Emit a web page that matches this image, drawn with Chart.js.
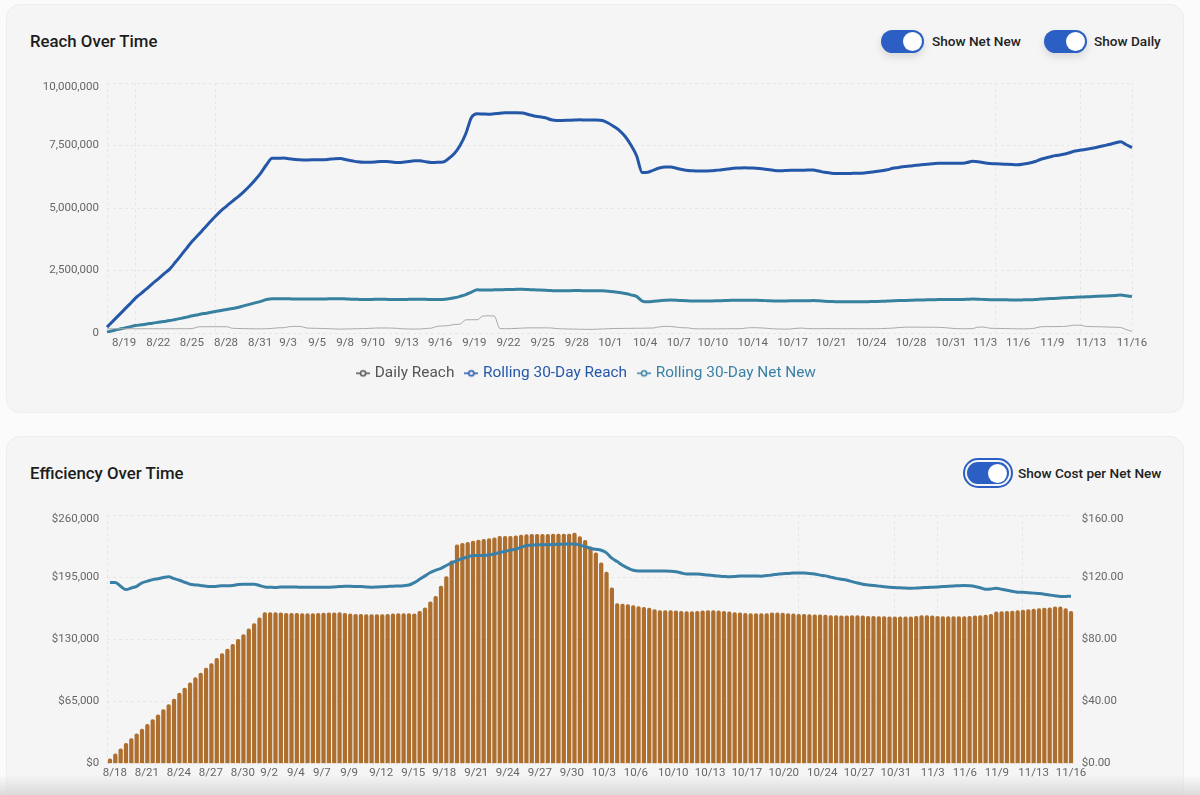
<!DOCTYPE html>
<html>
<head>
<meta charset="utf-8">
<title>Reach and Efficiency</title>
<script src="https://cdn.jsdelivr.net/npm/chart.js@4"></script>
<style>
    html, body { margin: 0; padding: 0; width: 1200px; height: 795px; overflow: hidden; background: #fbfbfb; font-family: Roboto, sans-serif; }
    .card { position: absolute; left: 6px; width: 1178px; background: #f5f5f5; border: 1px solid #eeeeee; border-radius: 14px; box-sizing: border-box; }
    #reach-card { top: 4px; height: 409px; }
    #efficiency-card { top: 436px; height: 380px; }
    .title { position: absolute; left: 30px; font-size: 16.8px; font-weight: 500; color: #1c1c1c; }
    .toggle { position: absolute; width: 43px; height: 23px; background: #2c5fc3; border-radius: 12px; box-shadow: 0 4px 8px rgba(0,0,0,0.12); }
    .toggle::after { content: ''; position: absolute; right: 2px; top: 2px; width: 19px; height: 19px; border-radius: 50%; background: #fff; }
    .toggle.focus { width: 42px; height: 22px; outline: 2px solid #2c5fc3; outline-offset: 2px; box-shadow: none; }
    .toggle.focus::after { top: 1.5px; }
    .toggle-label { position: absolute; font-size: 13.6px; font-weight: 500; color: #222; white-space: nowrap; }
    canvas { position: absolute; }
    #reach-chart { left: 20px; top: 67px; }
    #efficiency-chart { left: 20px; top: 499px; }
    #bottom-fade { position: absolute; left: 0; top: 775px; width: 1200px; height: 20px; pointer-events: none; background: linear-gradient(to bottom, rgba(215,215,215,0), rgba(215,215,215,0.9)); }
</style>
</head>
<body>
<div class="card" id="reach-card"></div>
<div class="card" id="efficiency-card"></div>

<div class="title" style="top:31px">Reach Over Time</div>
<div class="toggle" style="left:881px;top:30px"></div>
<div class="toggle-label" style="left:932px;top:33px">Show Net New</div>
<div class="toggle" style="left:1044px;top:30px"></div>
<div class="toggle-label" style="left:1094px;top:33px">Show Daily</div>

<div class="title" style="top:463px">Efficiency Over Time</div>
<div class="toggle focus" style="left:967px;top:462px"></div>
<div class="toggle-label" style="left:1018px;top:465px">Show Cost per Net New</div>

<canvas id="reach-chart" width="1154" height="324"></canvas>
<canvas id="efficiency-chart" width="1120" height="284"></canvas>
<div id="bottom-fade"></div>

<script>
// --- TICK LABELS AND THEIR POSITIONS (in half-day steps from 8/18) ---
const reachTickLabels = ['8/19','8/22','8/25','8/28','8/31','9/3','9/5','9/8','9/10','9/13','9/16','9/19','9/22','9/25','9/28','10/1','10/4','10/7','10/10','10/14','10/17','10/21','10/24','10/28','10/31','11/3','11/6','11/9','11/13','11/16'];
const reachTickSpots = [3,9,14.9,20.9,26.9,31.8,36.9,41.8,46.7,52.6,58.5,64.5,70.5,76.5,82.5,88.4,94.5,100.4,106.4,113.4,120.4,127.2,134.2,141.2,148.2,154.2,160,166,172.8,180];
const reachGridSpots = [0,5,13.9,19,25.9,31.8,37.8,43.8,49.7,55.7,61.6,68.6,75.5,82.5,89.5,96.5,101.4,108.1,117.4,126.2,134.2,142.2,149.2,156,163.2,171,180];
const effTickLabels = ['8/18','8/21','8/24','8/27','8/30','9/2','9/4','9/7','9/9','9/12','9/15','9/18','9/21','9/24','9/27','9/30','10/3','10/6','10/10','10/13','10/17','10/20','10/24','10/27','10/31','11/3','11/6','11/9','11/13','11/16'];
const effTickSpots = [0.9,6.9,12.9,18.9,24.9,29.8,34.8,39.7,44.8,50.8,56.8,62.6,68.6,74.5,80.5,86.5,92.5,98.5,105.5,112.4,119.3,126.2,133.4,140.3,147.2,154.1,160.1,166.1,173,180];
const effGridSpots = [-0.5,8.8,16.9,25.3,31.7,37.8,43.6,50.6,58.6,66.7,74.5,82.4,90.3,98.3,106.4,114.4,121.4,129,138.2,147,155,163.3,171,180.4];

// --- SERIES, ONE VALUE PER HALF DAY (thousands) ---
const dailyReach = [
    175,175,175,175,175,175,175,175,175,175,175,175,175,175,175,180,250,255,255,255,
    255,255,195,185,180,175,170,170,175,190,210,215,255,270,265,205,195,190,185,175,
    165,160,165,170,175,180,190,200,205,205,200,190,170,165,160,165,185,200,270,285,
    300,345,360,530,535,535,680,690,685,180,175,180,190,200,210,210,210,210,205,180,
    170,165,160,155,150,150,155,165,175,185,185,190,190,195,195,200,205,250,270,265,
    240,215,210,175,170,170,170,170,170,175,175,175,195,215,215,205,190,170,165,160,
    165,190,200,180,175,175,180,180,175,175,175,175,175,175,175,175,180,190,200,220,
    235,240,240,235,235,235,230,220,200,180,175,175,180,240,240,195,190,185,180,175,
    170,170,175,200,255,260,260,260,265,290,320,315,265,260,255,250,240,235,225,140,
    65
];
const rollingReach = [
    240,470,700,930,1160,1400,1590,1780,1980,2170,2370,2560,2830,3110,3400,3680,3920,4170,4420,4660,
    4890,5080,5270,5450,5650,5870,6120,6400,6730,6990,6990,7000,6970,6940,6930,6920,6930,6930,6930,6950,
    6970,6980,6930,6890,6850,6830,6830,6840,6860,6860,6840,6820,6830,6860,6890,6890,6850,6820,6830,6840,
    6980,7180,7500,7970,8620,8770,8760,8750,8770,8790,8810,8810,8810,8800,8740,8680,8650,8610,8530,8500,
    8500,8510,8520,8530,8520,8520,8520,8500,8400,8260,8100,7860,7520,7090,6420,6430,6520,6600,6640,6640,
    6590,6540,6500,6490,6480,6480,6490,6510,6530,6560,6590,6600,6610,6600,6590,6570,6540,6510,6490,6500,
    6510,6510,6510,6520,6520,6480,6430,6400,6380,6380,6380,6390,6390,6400,6430,6460,6490,6530,6590,6620,
    6660,6680,6710,6730,6750,6770,6790,6790,6790,6790,6790,6820,6870,6850,6810,6780,6770,6760,6750,6740,
    6730,6760,6800,6860,6950,7010,7070,7110,7150,7210,7280,7320,7350,7390,7440,7490,7540,7600,7650,7530,
    7420
];
const rollingNetNew = [
    40,95,150,200,250,300,330,365,395,430,465,500,545,590,640,690,735,780,820,860,
    905,945,985,1025,1090,1150,1210,1270,1340,1375,1375,1375,1370,1365,1360,1360,1360,1360,1365,1370,
    1375,1375,1365,1355,1350,1345,1345,1350,1350,1350,1345,1345,1345,1350,1355,1355,1350,1345,1345,1345,
    1370,1410,1470,1540,1640,1730,1725,1725,1730,1735,1740,1745,1750,1750,1740,1730,1725,1715,1700,1690,
    1690,1695,1700,1700,1695,1695,1695,1690,1675,1650,1620,1580,1530,1470,1280,1250,1270,1295,1310,1320,
    1315,1300,1290,1280,1280,1280,1285,1290,1295,1305,1310,1315,1315,1310,1310,1305,1295,1285,1280,1285,
    1290,1290,1295,1295,1300,1290,1275,1265,1255,1250,1250,1250,1255,1255,1260,1265,1270,1280,1290,1300,
    1305,1310,1320,1325,1330,1335,1340,1340,1340,1340,1345,1350,1360,1355,1345,1335,1330,1330,1330,1325,
    1325,1330,1335,1345,1360,1375,1385,1395,1410,1420,1435,1445,1450,1460,1470,1480,1490,1500,1520,1490,
    1460
];
const spendBars = [
    4.9,10,15.4,21,26,31,36,41,46,51,56.5,61.6,67.4,73.7,79,84.5,89.8,94.7,99.9,104.5,
    110,115,119.8,124.7,130,134.9,140.8,146.4,152.3,157.9,157.9,157.9,157.6,157.2,157.2,157.2,156.9,156.9,156.9,157.2,
    157.4,157.6,157.6,157.9,157.2,156.5,156.2,156.2,155.9,155.9,155.9,155.9,156.2,156.5,156.9,156.9,156.9,156.6,159.3,162.8,
    169.1,175,185.5,195.7,212.1,228.9,230.3,231.3,232.7,233.8,234.5,235.2,236.2,237.6,237.6,237.6,238.3,239,239.4,239.7,
    239.7,239.7,239.9,240,240.1,240.1,240.1,241.1,237.3,233.4,226.8,220.5,210,200.2,183.8,167.4,166.7,166.3,165.3,164.2,
    163.5,162.5,161.1,160,160,160,159.7,159.3,159,159,159.3,159.7,160,160,159.7,159.3,158.6,157.9,157.6,157,
    156.9,156.9,156.9,156.9,157.6,157.6,157.3,156.9,156.5,156.2,156.2,155.8,155.5,155.5,155.2,154.8,154.8,154.5,154.5,154.8,
    154.8,154.5,154.1,154.1,153.8,153.8,153.4,153.4,153.4,153.4,153.4,154.1,154.8,154.8,154.5,154.1,153.8,153.8,153.8,153.8,
    153.8,154.1,154.5,154.8,155.2,156.2,158.6,158.9,159.3,159.6,160,160.4,161,161.5,162,162.6,163,163.8,163.8,162.1,
    159.3
];
const costPerNetNew = [
    116.5,116.5,114.1,112,113,114.1,116.3,117.4,118.4,119,119.7,120.2,119,118,116.7,115.4,115,114.6,114.1,113.9,
    114.1,114.4,114.4,114.6,115.2,115.4,115.4,115.4,114.6,113.7,113.5,113.3,113.7,113.7,113.7,113.6,113.5,113.5,113.5,113.5,
    113.5,113.5,113.7,113.9,114.1,114.1,114,113.9,113.7,113.5,113.6,113.8,114,114.2,114.3,114.5,114.9,116.5,118.6,120.8,
    123,124.5,125.7,127.5,129.2,130.6,132,133,133.9,133.9,133.9,134.2,135,135.8,136.6,137.4,138,139.2,140.4,140.6,
    140.8,140.8,140.9,141,141.1,141.2,141.3,141.4,140.6,139.6,138.6,137.9,137.3,135.6,132.2,130,127.6,125.8,124.4,124,
    124,124,124,124,124,123.8,123.4,122.7,122,122,122,121.7,121.4,121,120.7,120.4,120.2,120.4,120.7,120.8,
    120.8,120.7,120.6,121,121.4,121.9,122.2,122.4,122.7,122.7,122.6,122.4,122,121.3,120.8,120,119.2,118.6,118,117.1,
    116.2,115.4,115,114.6,114.2,113.8,113.5,113.3,113.1,113,112.8,113,113.2,113.3,113.5,113.7,113.9,114.1,114.3,114.5,
    114.6,114.4,114,113.2,112.2,112.4,112.8,112.2,111.5,110.9,110.3,110.2,110,109.7,109.4,109,108.5,108,107.5,107.6,
    107.7
];

// --- CHART HELPERS ---
const FONT = 'Roboto, sans-serif';
const GRID_COLOR = '#e6e6e6';
const GRID_DASH = [3, 3];
const TICK_COLOR = '#666666';
const TICK_SIZE = 11.5;

// half-day category labels, 8/18 onward
const halfDays = rollingReach.map((_, i) => {
    const d = new Date(2024, 7, 18 + Math.floor(i / 2));
    return `${d.getMonth() + 1}/${d.getDate()}`;
});

// Top tick label sits a little lower than its grid line: an empty first line pushes it down
const tickFont = (top) => (ctx) => ({
    family: FONT,
    size: TICK_SIZE,
    lineHeight: ctx.tick && ctx.tick.value === top ? '8px' : 1.2
});
const tickText = (top, format) => (value) => value === top ? ['', format(value)] : format(value);

function labelAxis(labels, spots, offset, height) {
    return {
        type: 'category',
        offset: offset,
        position: 'bottom',
        border: { display: false },
        grid: { display: false, drawTicks: false },
        ticks: {
            autoSkip: false, maxRotation: 0, padding: 3,
            color: TICK_COLOR, font: { family: FONT, size: TICK_SIZE },
            callback: (value, i) => labels[i]
        },
        afterBuildTicks: (axis) => { axis.ticks = spots.map(value => ({ value })); },
        afterFit: (axis) => { axis.height = height; }
    };
}

function gridAxis(spots, offset) {
    return {
        type: 'category',
        offset: offset,
        position: 'bottom',
        border: { display: false, dash: GRID_DASH },
        grid: { color: GRID_COLOR, offset: false, drawTicks: false },
        ticks: { display: false, autoSkip: false },
        afterBuildTicks: (axis) => { axis.ticks = spots.map(value => ({ value })); },
        afterFit: (axis) => { axis.height = 0; }
    };
}

// Legend marker: short line with a hollow circle on it
function legendMarker(color) {
    const c = document.createElement('canvas');
    c.width = 14; c.height = 10;
    const g = c.getContext('2d');
    g.strokeStyle = color;
    g.lineWidth = 1.5;
    g.beginPath(); g.moveTo(0, 5); g.lineTo(14, 5); g.stroke();
    g.fillStyle = '#f5f5f5';
    g.beginPath(); g.arc(7, 5, 2.6, 0, Math.PI * 2); g.fill(); g.stroke();
    return c;
}

// --- REACH OVER TIME ---
const REACH_MAX = 10000000;
const toUnits = (arr) => arr.map(v => v * 1000);

new Chart(document.getElementById('reach-chart'), {
    type: 'line',
    data: {
        labels: halfDays,
        datasets: [
            { label: 'Daily Reach', data: toUnits(dailyReach), borderColor: '#a9a9a9', borderWidth: 1, pointRadius: 0, cubicInterpolationMode: 'monotone', _legend: '#555555' },
            { label: 'Rolling 30-Day Reach', data: toUnits(rollingReach), borderColor: '#2557a9', borderWidth: 3, pointRadius: 0, cubicInterpolationMode: 'monotone', _legend: '#2557a9' },
            { label: 'Rolling 30-Day Net New', data: toUnits(rollingNetNew), borderColor: '#37809f', borderWidth: 3, pointRadius: 0, cubicInterpolationMode: 'monotone', _legend: '#3a80a6' }
        ]
    },
    options: {
        responsive: false,
        animation: false,
        // left padding only moves the centred legend to the right; the y axis is narrowed to match
        layout: { padding: { left: 23, right: 42 } },
        plugins: {
            tooltip: { enabled: false },
            legend: {
                position: 'bottom',
                labels: {
                    usePointStyle: true, pointStyleWidth: 8, padding: 13,
                    font: { family: FONT, size: 15.4 },
                    generateLabels: (chart) => chart.data.datasets.map((ds, i) => ({
                        text: ds.label, datasetIndex: i, fontColor: ds._legend,
                        pointStyle: legendMarker(ds._legend), lineWidth: 0,
                        fillStyle: 'transparent', strokeStyle: 'transparent'
                    }))
                }
            }
        },
        scales: {
            x: labelAxis(reachTickLabels, reachTickSpots, false, 19.5),
            xGrid: gridAxis(reachGridSpots, false),
            y: {
                min: 0, max: REACH_MAX,
                border: { display: false, dash: GRID_DASH },
                grid: { color: GRID_COLOR, drawTicks: false },
                ticks: {
                    stepSize: 2500000, padding: 8, color: TICK_COLOR, font: tickFont(REACH_MAX),
                    callback: tickText(REACH_MAX, v => v.toLocaleString('en-US'))
                },
                afterFit: (axis) => { axis.width = 64; }
            }
        }
    }
});

// --- EFFICIENCY OVER TIME ---
const SPEND_MAX = 260000;
const COST_MAX = 160;

new Chart(document.getElementById('efficiency-chart'), {
    type: 'bar',
    data: {
        labels: halfDays,
        datasets: [
            { type: 'line', label: 'Cost per Net New', data: costPerNetNew, yAxisID: 'yCost', borderColor: '#3a7fa6', borderWidth: 3, pointRadius: 0, cubicInterpolationMode: 'monotone', order: 0 },
            { type: 'bar', label: 'Spend', data: toUnits(spendBars), yAxisID: 'y', backgroundColor: '#ae6f2e', barThickness: 3.6, borderRadius: { topLeft: 2, topRight: 2 }, borderSkipped: 'bottom', order: 1 }
        ]
    },
    options: {
        responsive: false,
        animation: false,
        plugins: { legend: { display: false }, tooltip: { enabled: false } },
        scales: {
            x: labelAxis(effTickLabels, effTickSpots, true, 19.5),
            xGrid: gridAxis(effGridSpots, true),
            y: {
                min: 0, max: SPEND_MAX,
                border: { display: false, dash: GRID_DASH },
                grid: { color: GRID_COLOR, drawTicks: false },
                ticks: {
                    stepSize: 65000, padding: 8, color: TICK_COLOR, font: tickFont(SPEND_MAX),
                    callback: tickText(SPEND_MAX, v => '$' + v.toLocaleString('en-US'))
                },
                afterFit: (axis) => { axis.width = 87.3; }
            },
            yCost: {
                position: 'right',
                min: 0, max: COST_MAX,
                border: { display: false },
                grid: { display: false, drawTicks: false },
                ticks: {
                    stepSize: 40, padding: 8, color: TICK_COLOR, font: tickFont(COST_MAX),
                    callback: tickText(COST_MAX, v => '$' + v.toFixed(2))
                },
                afterFit: (axis) => { axis.width = 66.3; }
            }
        }
    }
});
</script>
</body>
</html>
